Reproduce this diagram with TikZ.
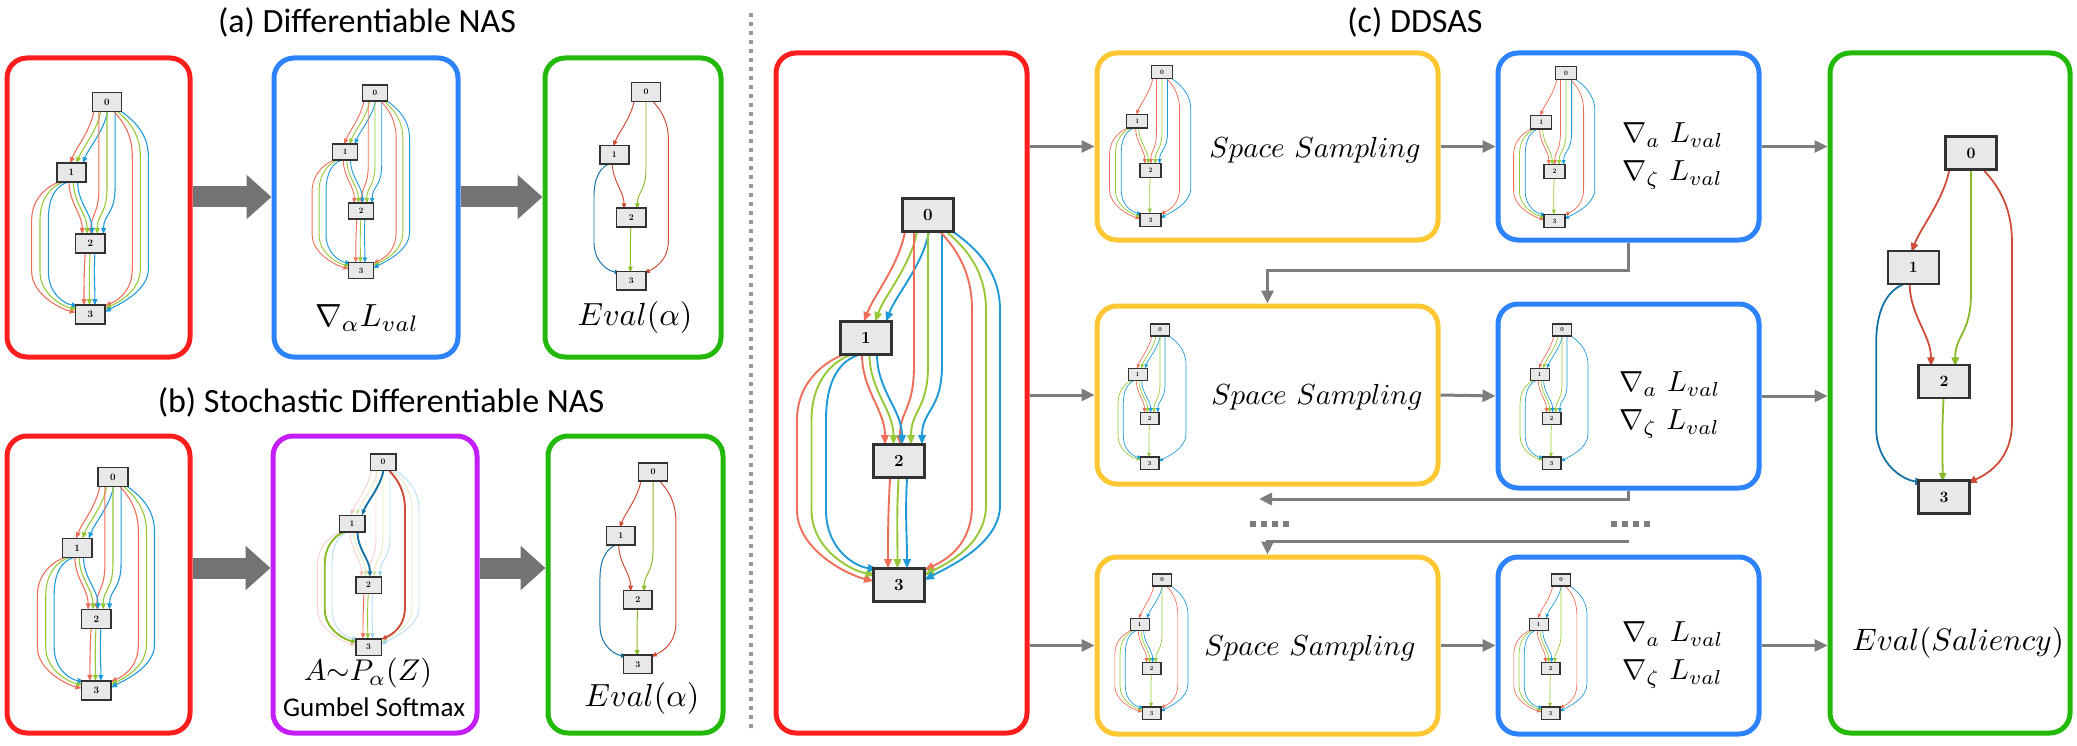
\documentclass[tikz,border=0pt]{standalone}
\usepackage{graphicx}
\usepackage{fontspec}
\newfontfamily\carlito{Carlito}
\usetikzlibrary{arrows.meta}
\definecolor{bxred}{RGB}{255,30,30}
\definecolor{bxblue}{RGB}{45,130,255}
\definecolor{bxgreen}{RGB}{35,185,10}
\definecolor{bxpurple}{RGB}{195,30,250}
\definecolor{bxyellow}{RGB}{255,200,50}
\definecolor{cgray}{RGB}{125,125,125}
\definecolor{bgray}{RGB}{115,115,115}
\definecolor{er}{RGB}{238,110,90}
\definecolor{eg}{RGB}{150,200,55}
\definecolor{eb}{RGB}{30,155,215}
\definecolor{dr}{RGB}{205,75,55}
\definecolor{dg}{RGB}{135,185,40}
\definecolor{db}{RGB}{20,115,165}
\definecolor{nfill}{RGB}{232,232,232}
\definecolor{ndraw}{RGB}{50,50,50}

\newcommand{\mbig}[2]{\scalebox{#1}{$#2$}}

\tikzset{
  box/.style={draw=#1, line width=5pt, rounded corners=20pt, inner sep=0pt},
  conn/.style={draw=cgray, line width=3pt, -{Triangle[length=13pt,width=12pt]}},
  block/.style={draw=bgray, line width=21pt, -{Triangle[length=25pt,width=43pt]}},
  gnode/.style={draw=ndraw, fill=nfill, line width=\gnlw, inner sep=0pt, minimum width=\gnw, minimum height=\gnh, transform shape, font=\fontsize{17}{17}\selectfont\bfseries},
  gedge/.style={line width=\glw, -{Triangle[length=\gal,width=\gaw]}},
  pale/.style={opacity=0.3},
  bold/.style={line width=\gblw},
  ttl/.style={font=\carlito\fontsize{34}{40}\selectfont, inner sep=0pt},
  mth/.style={inner sep=0pt},
  mtb/.style={inner sep=0pt, anchor=west},
}

% edges of the mini graphs, local frame: node 0 centre at origin, y down
\newcommand{\grEa}[2]{\draw[gedge,#1] ({-23+12*#2},16.5) .. controls ({-29+12*#2},50) and ({-54+11*#2},80) .. ({-64+11*#2},106.5);}
\newcommand{\grEb}[2]{\draw[gedge,#1] ({-14+14*#2},16.5) -- ({-14+14*#2},150) .. controls ({-14+14*#2},195) and ({-28+11*#2},195) .. ({-28+11*#2},229.5);}
\newcommand{\grEc}[2]{\draw[gedge,#1] ({12+6.5*#2},16.5) .. controls ({22+9*#2},28) and ({44+14*#2},50) .. ({44+14*#2},95) -- ({44+14*#2},290) .. controls ({44+14*#2},330) and (18,{345+4*#2}) .. (-3.5,{355+5*#2});}
\newcommand{\grEd}[2]{\draw[gedge,#1] ({-66+7.5*#2},139.5) .. controls ({-66+7.5*#2},175) and ({-43+8.5*#2},195) .. ({-43+8.5*#2},229.5);}
\newcommand{\grEe}[2]{\draw[gedge,#1] ({-84+8*#2},139.5) .. controls ({-100+6*#2},145) and ({-131+14.5*#2},165) .. ({-131+14.5*#2},205) -- ({-131+14.5*#2},295) .. controls ({-131+14.5*#2},335) and ({-80+4*#2},{360-4*#2}) .. ({-54.5+2*#2},{366-6*#2});}
\newcommand{\grEf}[2]{\draw[gedge,#1] ({-38+8.5*#2},263.5) .. controls ({-40+8.5*#2},300) and ({-40+9.5*#2},320) .. ({-40+9.5*#2},353.5);}

\newcommand{\grFull}{\grEa{er}{0}\grEa{eg}{1}\grEa{eb}{2}\grEb{er}{0}\grEb{eg}{1}\grEb{eb}{2}\grEc{er}{0}\grEc{eg}{1}\grEc{eb}{2}\grEd{er}{0}\grEd{eg}{1}\grEd{eb}{2}\grEe{er}{0}\grEe{eg}{1}\grEe{eb}{2}\grEf{er}{0}\grEf{eg}{1}\grEf{eb}{2}}
\newcommand{\grEval}{\grEa{dr}{0}\grEb{dg}{1}\grEc{dr}{0}\grEd{dr}{0}\grEe{db}{2}\grEf{dg}{1}}
\newcommand{\grPurple}{\grEa{er,pale}{0}\grEa{eg,pale}{1}\grEb{er,pale}{0}\grEb{eg,pale}{1}\grEb{eb,pale}{2}\grEc{eg,pale}{1}\grEc{eb,pale}{2}\grEd{er,pale}{0}\grEd{eg,pale}{1}\grEe{er,pale}{0}\grEe{eb,pale}{2}\grEf{eb,pale}{2}\grEa{db,bold}{2}\grEc{dr,bold}{0}\grEd{db,bold}{2}\grEe{dg,bold}{1}\grEf{er}{0}\grEf{eg}{1}}
\newcommand{\grRowA}{\grEa{er}{0}\grEb{er}{0}\grEb{eg}{1}\grEb{eb}{2}\grEc{er}{0}\grEc{eb}{2}\grEd{er}{0}\grEd{eg}{1}\grEe{er}{0}\grEe{eg}{1}\grEe{eb}{2}\grEf{eg}{1}}
\newcommand{\grRowB}{\grEa{er}{0}\grEa{eg}{1}\grEa{eb}{2}\grEb{eg}{1}\grEb{eb}{2}\grEc{eb}{2}\grEd{er}{0}\grEd{eg}{1}\grEd{eb}{2}\grEe{eg}{1}\grEe{eb}{2}\grEf{eg}{1}}
\newcommand{\grRowC}{\grEa{er}{0}\grEa{eb}{2}\grEb{eg}{1}\grEc{er}{0}\grEc{eb}{2}\grEd{er}{0}\grEd{eg}{1}\grEd{eb}{2}\grEe{er}{0}\grEe{eg}{1}\grEe{eb}{2}\grEf{eg}{1}}

% #1 name, #2 #3 position of node 0, #4 scale, #5 node scale, #6 edges
\newcommand{\dagraph}[6]{%
\begin{scope}[shift={(#2,#3)},scale=#4]
\pgfmathsetlengthmacro{\glw}{max(0.55,1.9*#4)}%
\pgfmathsetlengthmacro{\gblw}{2*max(0.55,1.9*#4)}%
\pgfmathsetlengthmacro{\gal}{8*#4+1.5}%
\pgfmathsetlengthmacro{\gaw}{6.5*#4+1.2}%
\pgfmathsetlengthmacro{\gnlw}{0.6+1.8*#4}%
\pgfmathsetmacro{\gnw}{51*#5/#4}%
\pgfmathsetmacro{\gnh}{33*#5/#4}%
#6
\node[gnode] (#1n0) at (0,0) {0};
\node[gnode] (#1n1) at (-62,123) {1};
\node[gnode] (#1n2) at (-29,246) {2};
\node[gnode] (#1n3) at (-29,370) {3};
\end{scope}}

\begin{document}
\begin{tikzpicture}[x=1pt,y=-1pt]
\useasboundingbox (0,0) rectangle (2077,746);

% titles
\node[ttl] (ta) at (367,22) {(a) Differentiable NAS};
\node[ttl] (tb) at (381,402) {(b) Stochastic Differentiable NAS};
\node[ttl] (tc) at (1415,22) {(c) DDSAS};

% divider
\draw[draw=cgray!80, line width=4pt, dash pattern=on 4pt off 5pt] (751,13) -- (751,733);

% boxes of (a)
\node[box=bxred, minimum width=183, minimum height=299] (ar) at (98.5,207.5) {};
\node[box=bxblue, minimum width=184, minimum height=299] (ab) at (366,207.5) {};
\node[box=bxgreen, minimum width=176, minimum height=299] (ag) at (633,207.5) {};
% boxes of (b)
\node[box=bxred, minimum width=183, minimum height=297] (br) at (98.5,584.5) {};
\node[box=bxpurple, minimum width=204, minimum height=297] (bp) at (375,584.5) {};
\node[box=bxgreen, minimum width=175, minimum height=297] (bg) at (635.5,584.5) {};
% boxes of (c)
\node[box=bxred, minimum width=251, minimum height=680] (cr) at (901.5,393) {};
\node[box=bxyellow, minimum width=341, minimum height=187] (y1) at (1267.5,146.5) {};
\node[box=bxyellow, minimum width=341, minimum height=178] (y2) at (1267.5,395) {};
\node[box=bxyellow, minimum width=341, minimum height=177] (y3) at (1267.5,645.5) {};
\node[box=bxblue, minimum width=261, minimum height=187] (b1) at (1628.5,146.5) {};
\node[box=bxblue, minimum width=261, minimum height=184] (b2) at (1628.5,396) {};
\node[box=bxblue, minimum width=261, minimum height=177] (b3) at (1628.5,645.5) {};
\node[box=bxgreen, minimum width=240, minimum height=680] (cg) at (1950,393) {};

% block arrows
\coordinate (ya) at (0,197);
\coordinate (yb) at (0,568);
\draw[block] (ar.east |- ya) -- (ab.west |- ya);
\draw[block] (ab.east |- ya) -- (ag.west |- ya);
\draw[block] (br.east |- yb) -- (bp.west |- yb);
\draw[block] (bp.east |- yb) -- (bg.west |- yb);

% connectors of (c)
\draw[conn] (cr.east |- y1.west) -- (y1.west);
\draw[conn] (cr.east |- y2.west) -- (y2.west);
\draw[conn] (cr.east |- y3.west) -- (y3.west);
\draw[conn] (y1.east) -- (b1.west);
\draw[conn] (y2.east) -- (b2.west);
\draw[conn] (y3.east) -- (b3.west);
\draw[conn] (b1.east) -- (cg.west |- b1.east);
\draw[conn] (b2.east) -- (cg.west |- b2.east);
\draw[conn] (b3.east) -- (cg.west |- b3.east);
\draw[conn] (b1.south) -- ++(0,28) -| (y1.south |- y2.north);
\coordinate (fb2) at (1259,499);
\draw[conn] (b2.south) |- (fb2);
\coordinate (fb3) at (1628.5,541);
\draw[conn] (fb3) -| (y3.north);
\draw[draw=cgray, line width=6pt, dash pattern=on 6pt off 5pt] (1250,524) -- (1289,524);
\draw[draw=cgray, line width=6pt, dash pattern=on 6pt off 5pt] (1611,524) -- (1650,524);

% mini graphs
\dagraph{gar}{107}{102}{0.575}{0.575}{\grFull}
\dagraph{gab}{375}{93}{0.48}{0.49}{\grFull}
\dagraph{gag}{646}{92}{0.51}{0.57}{\grEval}
\dagraph{gbr}{113}{477}{0.577}{0.577}{\grFull}
\dagraph{gbp}{383}{462}{0.5}{0.5}{\grPurple}
\dagraph{gbg}{653}{472}{0.52}{0.56}{\grEval}
\dagraph{gcr}{928}{215}{1}{1}{\grFull}
\dagraph{gcg}{1971}{153}{0.93}{1}{\grEval}
\dagraph{gy1}{1162}{72}{0.4}{0.41}{\grRowA}
\dagraph{gb1}{1566}{73}{0.4}{0.41}{\grRowA}
\dagraph{gy2}{1160}{330}{0.36}{0.37}{\grRowB}
\dagraph{gb2}{1562}{330}{0.36}{0.37}{\grRowB}
\dagraph{gy3}{1162}{580}{0.36}{0.37}{\grRowC}
\dagraph{gb3}{1561}{580}{0.36}{0.37}{\grRowC}

% labels
\node[mth] (la) at (367,318) {\mbig{3.2}{\nabla_\alpha L_{val}}};
\node[mth] (lag) at (635,317) {\mbig{3.2}{Eval(\alpha)}};
\node[mth] (lbp) at (368,673) {\mbig{3.0}{A{\sim}P_\alpha(Z)}};
\node[ttl, font=\carlito\fontsize{27}{32}\selectfont] (lgs) at (374,707) {Gumbel Softmax};
\node[mth] (lbg) at (642,698) {\mbig{3.2}{Eval(\alpha)}};
\node[mth] (ls1) at (1315,150) {\mbig{2.9}{Space\ Sampling}};
\node[mth] (ls2) at (1317,397) {\mbig{2.9}{Space\ Sampling}};
\node[mth] (ls3) at (1310,648) {\mbig{2.9}{Space\ Sampling}};
\node[mtb] (l1a) at (1622,135) {\mbig{2.9}{\nabla_a\ L_{val}}};
\node[mtb] (l1z) at (1622,175) {\mbig{2.9}{\nabla_\zeta\ L_{val}}};
\node[mtb] (l2a) at (1619,384) {\mbig{2.9}{\nabla_a\ L_{val}}};
\node[mtb] (l2z) at (1619,424) {\mbig{2.9}{\nabla_\zeta\ L_{val}}};
\node[mtb] (l3a) at (1622,634) {\mbig{2.9}{\nabla_a\ L_{val}}};
\node[mtb] (l3z) at (1622,674) {\mbig{2.9}{\nabla_\zeta\ L_{val}}};
\node[mth] (lcg) at (1958,643) {\mbig{3.1}{Eval(Saliency)}};
\end{tikzpicture}
\end{document}
